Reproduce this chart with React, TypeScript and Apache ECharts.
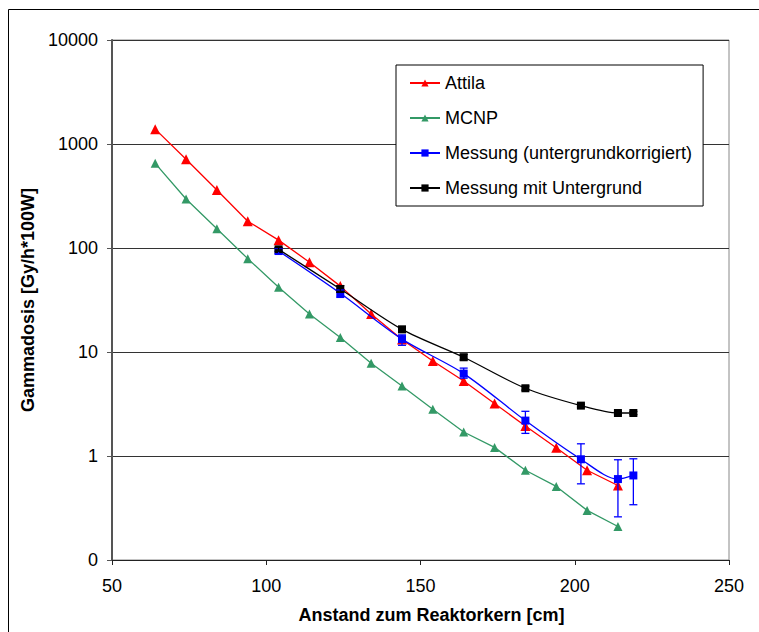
import React, { useEffect, useRef } from "react";
import * as echarts from "echarts";

const xTicks = [50, 100, 150, 200, 250];
const attilaX = [64, 74, 84, 94, 104, 114, 124, 134, 144, 154, 164, 174, 184, 194, 204, 214];
const attilaY = [1390, 713, 361, 181, 119, 73, 43, 23.2, 13.2, 8.2, 5.26, 3.2, 1.94, 1.2, 0.73, 0.52];
const mcnpX = [64, 74, 84, 94, 104, 114, 124, 134, 144, 154, 164, 174, 184, 194, 204, 214];
const mcnpY = [652, 296, 153, 79, 41.9, 23.2, 13.8, 7.8, 4.7, 2.81, 1.7, 1.21, 0.73, 0.51, 0.3, 0.21];
const messX = [104, 124, 144, 164, 184, 202, 214, 219];
const messY = [93.5, 36.7, 13.3, 6.2, 2.19, 0.93, 0.6, 0.65];
const messLow = [88, 33.5, 11.6, 5.6, 1.65, 0.54, 0.26, 0.34];
const messHigh = [99, 39.5, 14.6, 7.0, 2.69, 1.31, 0.92, 0.94];
const bgY = [97, 40.3, 16.5, 8.9, 4.48, 3.05, 2.59, 2.59];
const bgLow = [93, 37.5, 15.5, 8.4, 4.3, 2.95, 2.5, 2.5];
const bgHigh = [101, 43.5, 17.6, 9.5, 4.7, 3.15, 2.68, 2.68];

const FONT = "'Liberation Sans', Arial, sans-serif";

function errSeries(name: string, xs: number[], lo: number[], hi: number[], color: string) {
  return {
    type: "custom",
    name,
    z: 5,
    encode: { x: 0, y: [1, 2] },
    data: xs.map((x, i) => [x, lo[i], hi[i]]),
    renderItem: (params: any, api: any) => {
      const x = api.value(0);
      const p1 = api.coord([x, api.value(1)]);
      const p2 = api.coord([x, api.value(2)]);
      const style = { stroke: color, lineWidth: 1.3 };
      return {
        type: "group",
        children: [
          { type: "line", shape: { x1: p1[0], y1: p1[1], x2: p2[0], y2: p2[1] }, style },
          { type: "line", shape: { x1: p1[0] - 4, y1: p1[1], x2: p1[0] + 4, y2: p1[1] }, style },
          { type: "line", shape: { x1: p2[0] - 4, y1: p2[1], x2: p2[0] + 4, y2: p2[1] }, style },
        ],
      };
    },
  };
}

export default function App() {
  const ref = useRef<HTMLDivElement>(null);
  useEffect(() => {
    const chart = echarts.init(ref.current!, null, { renderer: "svg" });
    chart.setOption({
      animation: false,
      backgroundColor: "#fff",
      textStyle: { fontFamily: FONT },
      graphic: [
        {
          type: "rect",
          shape: { x: 8.5, y: 9.5, width: 800, height: 700 },
          style: { fill: "none", stroke: "#000", lineWidth: 1 },
          silent: true,
        },
      ],
      grid: {
        left: 112,
        right: 30,
        top: 40,
        bottom: 72,
        show: true,
        borderColor: "#888",
        borderWidth: 1,
        backgroundColor: "transparent",
      },
      legend: {
        orient: "vertical",
        left: 396,
        top: 65,
        data: ["Attila", "MCNP", "Messung (untergrundkorrigiert)", "Messung mit Untergrund"],
        itemWidth: 30,
        itemHeight: 9,
        itemGap: 15,
        padding: [8, 11, 8, 13],
        borderColor: "#000",
        borderWidth: 1,
        backgroundColor: "#fff",
        textStyle: { fontFamily: FONT, fontSize: 18, color: "#000", lineHeight: 20 },
      },
      xAxis: {
        type: "value",
        min: 50,
        max: 250,
        interval: 50,
        name: "Anstand zum Reaktorkern [cm]",
        nameLocation: "middle",
        nameGap: 46,
        nameTextStyle: {
          fontFamily: FONT,
          fontSize: 18,
          fontWeight: "bold",
          color: "#000",
          padding: [0, 0, 0, 22],
        },
        axisLine: { show: true, onZero: false, lineStyle: { color: "#222", width: 1 } },
        axisTick: { show: true, inside: false, length: 5, lineStyle: { color: "#222" } },
        axisLabel: { fontFamily: FONT, fontSize: 18, color: "#000", margin: 17 },
        splitLine: { show: false },
      },
      yAxis: {
        type: "log",
        logBase: 10,
        min: 0.1,
        max: 10000,
        name: "Gammadosis [Gy/h*100W]",
        nameLocation: "middle",
        nameGap: 74,
        nameTextStyle: { fontFamily: FONT, fontSize: 18, fontWeight: "bold", color: "#000" },
        axisLine: { show: true, lineStyle: { color: "#555", width: 2 } },
        axisTick: { show: true, length: 5, lineStyle: { color: "#555" } },
        minorTick: { show: false },
        axisLabel: {
          fontFamily: FONT,
          fontSize: 18,
          color: "#000",
          margin: 14,
          formatter: (v: number) => (v < 1 ? "0" : String(Math.round(v))),
        },
        splitLine: { show: true, lineStyle: { color: "#333", width: 1 } },
      },
      series: [
        {
          type: "line",
          name: "Attila",
          data: attilaX.map((x, i) => [x, attilaY[i]]),
          symbol: "triangle",
          symbolSize: 10,
          color: "#ff0000",
          lineStyle: { width: 1.3 },
          z: 2,
        },
        {
          type: "line",
          name: "MCNP",
          data: mcnpX.map((x, i) => [x, mcnpY[i]]),
          symbol: "triangle",
          symbolSize: 9,
          color: "#339966",
          lineStyle: { width: 1.3 },
          z: 2,
        },
        {
          type: "line",
          name: "Messung (untergrundkorrigiert)",
          data: messX.map((x, i) => [x, messY[i]]),
          symbol: "rect",
          symbolSize: 8,
          smooth: 0.3,
          color: "#0000ff",
          lineStyle: { width: 1.3 },
          z: 3,
        },
        {
          type: "line",
          name: "Messung mit Untergrund",
          data: messX.map((x, i) => [x, bgY[i]]),
          symbol: "rect",
          symbolSize: 8,
          smooth: 0.3,
          color: "#000000",
          lineStyle: { width: 1.3 },
          z: 4,
        },
        errSeries("errMess", messX, messLow, messHigh, "#0000ff"),
        errSeries("errBg", messX, bgLow, bgHigh, "#000000"),
      ],
    });
    return () => chart.dispose();
  }, []);
  return (
    <div
      ref={ref}
      style={{ position: "fixed", left: 0, top: 0, width: 759, height: 632 }}
    />
  );
}
